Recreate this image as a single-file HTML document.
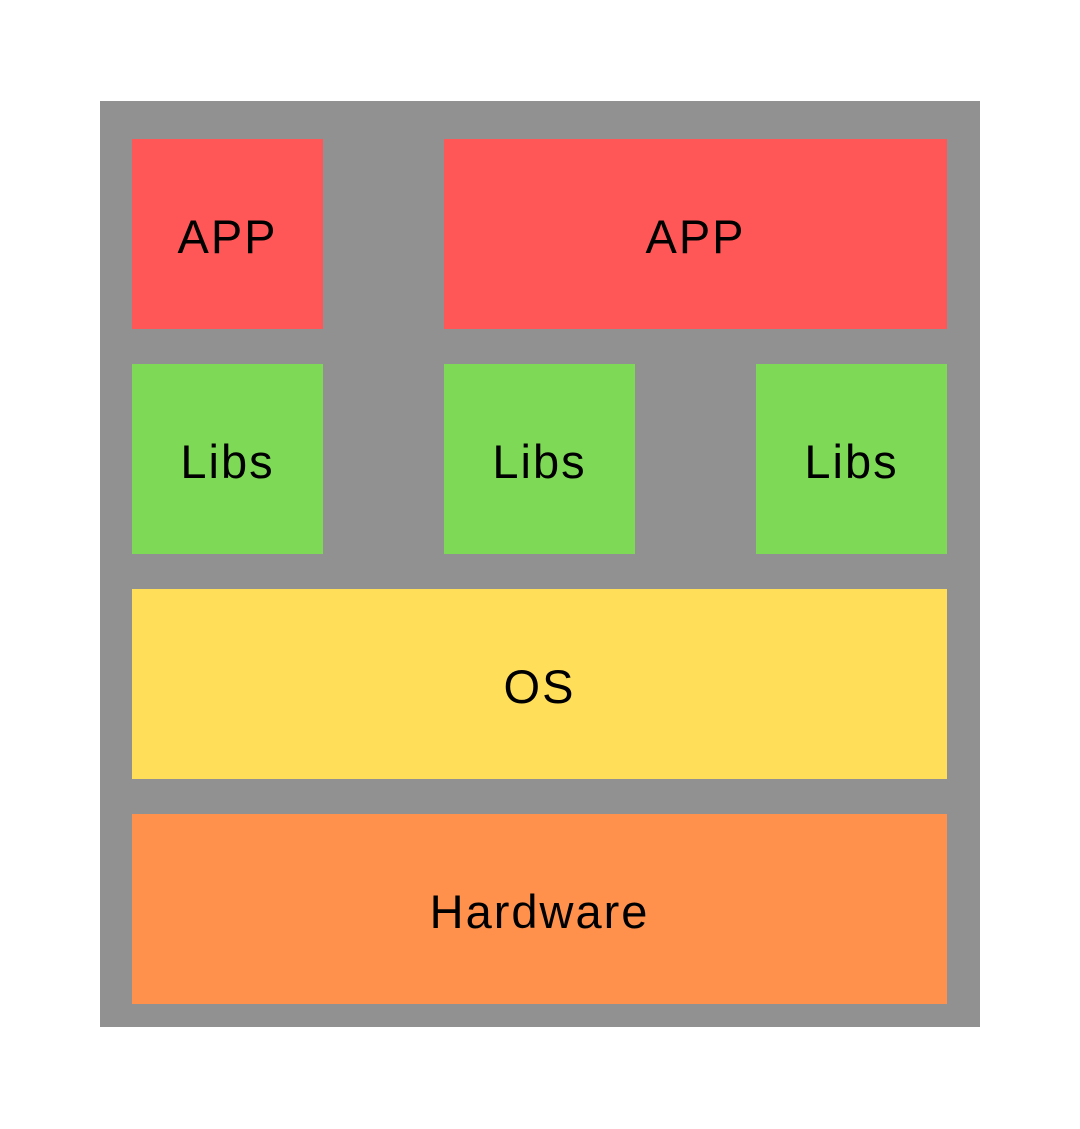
<!DOCTYPE html>
<html><head><style>
body{margin:0;width:1080px;height:1129px;background:#fff;position:relative;overflow:hidden;font-family:"Liberation Sans",sans-serif;}
.b{position:absolute;display:flex;align-items:center;justify-content:center;font-size:47px;color:#000;letter-spacing:2px;box-sizing:border-box;padding-top:4px;}
.r{background:#FF5757}.g{background:#7ED957}.y{background:#FFDE59}.o{background:#FF914D}
</style></head><body>
<div style="position:absolute;left:100px;top:101px;width:880px;height:926px;background:#919191"></div>
<div class="b r" style="left:132px;top:139px;width:191px;height:190px">APP</div>
<div class="b r" style="left:444px;top:139px;width:503px;height:190px">APP</div>
<div class="b g" style="left:132px;top:364px;width:191px;height:190px">Libs</div>
<div class="b g" style="left:444px;top:364px;width:191px;height:190px">Libs</div>
<div class="b g" style="left:756px;top:364px;width:191px;height:190px">Libs</div>
<div class="b y" style="left:132px;top:589px;width:815px;height:190px">OS</div>
<div class="b o" style="left:132px;top:814px;width:815px;height:190px">Hardware</div>
</body></html>
